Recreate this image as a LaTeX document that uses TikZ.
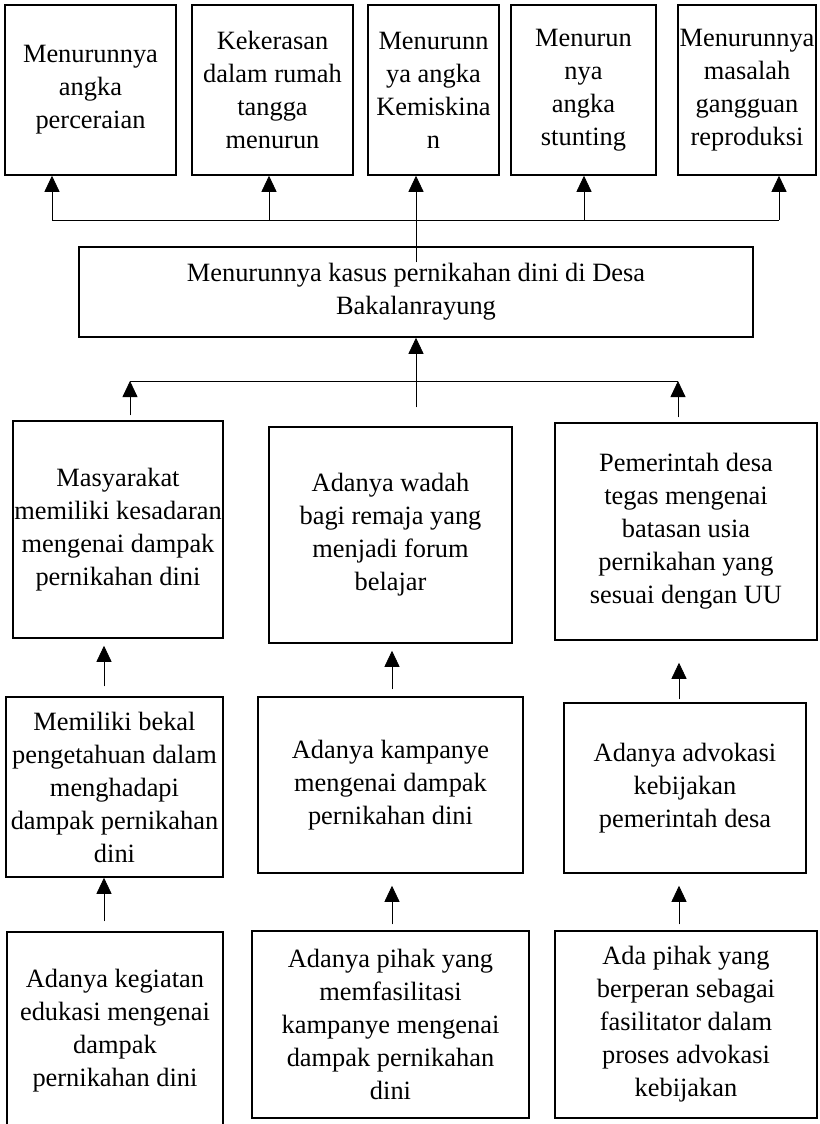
\documentclass[tikz,border=0pt]{standalone}
\usepackage{fontspec}
\setmainfont{Liberation Serif}
\usetikzlibrary{arrows.meta}

\begin{document}
\begin{tikzpicture}[x=1pt,y=-1pt,
        kotak/.style={draw,line width=1.5pt,align=center,inner sep=0pt,
            font=\fontsize{26.4}{33}\selectfont},
        panah/.style={line width=0.8pt,-{Triangle[length=16pt,width=15pt]}},
        garis/.style={line width=0.8pt}]
    \useasboundingbox (0,0) rectangle (819,1124);

    \node[kotak,minimum width=171pt,minimum height=170pt] (t1) at (90.5,90) {Menurunnya\\angka\\perceraian};
    \node[kotak,minimum width=161pt,minimum height=170pt] (t2) at (272.5,90) {Kekerasan\\dalam rumah\\tangga\\menurun};
    \node[kotak,minimum width=131pt,minimum height=170pt] (t3) at (433.5,90) {Menurunn\\ya angka\\Kemiskina\\n};
    \node[kotak,minimum width=145pt,minimum height=170pt] (t4) at (583.5,90) {Menurun\\nya\\angka\\stunting};
    \node[kotak,minimum width=138pt,minimum height=170pt] (t5) at (747,90) {Menurunnya\\masalah\\gangguan\\reproduksi};

    \node[kotak,minimum width=674pt,minimum height=90pt] (kasus) at (416,292) {Menurunnya kasus pernikahan dini di Desa\\Bakalanrayung};

    \node[kotak,minimum width=210pt,minimum height=217pt] (m1) at (118,529.5) {Masyarakat\\memiliki kesadaran\\mengenai dampak\\pernikahan dini};
    \node[kotak,minimum width=243pt,minimum height=216pt] (m2) at (390.5,535) {Adanya wadah\\bagi remaja yang\\menjadi forum\\belajar};
    \node[kotak,minimum width=262pt,minimum height=217pt] (m3) at (686,531.5) {Pemerintah desa\\tegas mengenai\\batasan usia\\pernikahan yang\\sesuai dengan UU};

    \node[kotak,minimum width=217pt,minimum height=180pt] (d) at (114.5,787) {Memiliki bekal\\pengetahuan dalam\\menghadapi\\dampak pernikahan\\dini};
    \node[kotak,minimum width=265pt,minimum height=176pt] (e) at (390.5,785) {Adanya kampanye\\mengenai dampak\\pernikahan dini};
    \node[kotak,minimum width=242pt,minimum height=170pt] (f) at (685,788) {Adanya advokasi\\kebijakan\\pemerintah desa};

    \node[kotak,minimum width=216pt,minimum height=198pt] (g) at (115,1031) {Adanya kegiatan\\edukasi mengenai\\dampak\\pernikahan dini};
    \node[kotak,minimum width=277pt,minimum height=187pt] (h) at (390.5,1024.5) {Adanya pihak yang\\memfasilitasi\\kampanye mengenai\\dampak pernikahan\\dini};
    \node[kotak,minimum width=262pt,minimum height=187pt] (i) at (686,1024.5) {Ada pihak yang\\berperan sebagai\\fasilitator dalam\\proses advokasi\\kebijakan};

    \coordinate (a1) at (52,220);
    \coordinate (a2) at (269,220);
    \coordinate (a4) at (584,220);
    \coordinate (a5) at (779,220);
    \draw[garis] (a1) -- (a5);
    \draw[panah] (a1) -- (a1 |- t1.south);
    \draw[panah] (a2) -- (a2 |- t2.south);
    \draw[panah] ([yshift=-16pt]kasus.north) -- (kasus.north |- t3.south);
    \draw[panah] (a4) -- (a4 |- t4.south);
    \draw[panah] (a5) -- (a5 |- t5.south);

    \coordinate (b1) at (130,381);
    \coordinate (b3) at (678,381);
    \draw[garis] (b1) -- (b3);
    \draw[panah,shorten <=5pt] (b1 |- m1.north) -- (b1);
    \draw[panah,shorten <=19pt] (kasus.south |- m2.north) -- (kasus.south);
    \draw[panah,shorten <=5pt] (b3 |- m3.north) -- (b3);

    \coordinate (k1) at (104,0);
    \coordinate (k2) at (392,0);
    \coordinate (k3) at (679,0);
    \draw[panah,shorten <=10pt,shorten >=7pt] (k1 |- d.north) -- (k1 |- m1.south);
    \draw[panah,shorten <=7pt,shorten >=7pt] (k2 |- e.north) -- (k2 |- m2.south);
    \draw[panah,shorten <=3pt,shorten >=22pt] (k3 |- f.north) -- (k3 |- m3.south);
    \draw[panah,shorten <=10pt] (k1 |- g.north) -- (k1 |- d.south);
    \draw[panah,shorten <=6pt,shorten >=12pt] (k2 |- h.north) -- (k2 |- e.south);
    \draw[panah,shorten <=6pt,shorten >=12pt] (k3 |- i.north) -- (k3 |- f.south);
\end{tikzpicture}
\end{document}
